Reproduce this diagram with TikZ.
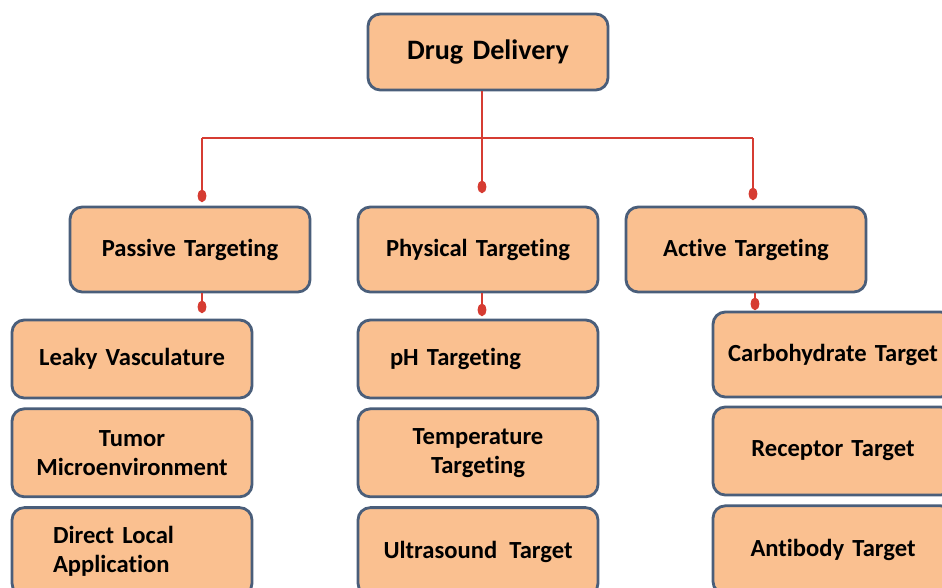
\documentclass[tikz,border=0pt]{standalone}
\usepackage{fontspec}
\setmainfont{Carlito}[Ligatures=NoCommon]
\usetikzlibrary{arrows.meta,positioning}

\definecolor{boxfill}{HTML}{FAC090}
\definecolor{boxline}{HTML}{4A5E7A}
\definecolor{linkred}{HTML}{D63C32}

\newcommand\boxfont{\bfseries\fontsize{14}{16.5}\selectfont\fontdimen2\font=0.2em\relax}
\newcommand\topfont{\bfseries\fontsize{16}{19}\selectfont\fontdimen2\font=0.2em\relax}

\begin{document}
\begin{tikzpicture}[
    node distance = 0.16cm, % gap between stacked boxes
    link/.style = {draw=linkred, line width=1.7pt, -{Ellipse[length=7pt,width=5pt]}}
    ]

    \tikzset{box/.style={
    draw = boxline,
    line width = 1.6pt,
    fill = boxfill,
    rounded corners = 7pt,
    minimum width = 4.8cm,
    text width = 4.4cm,
    inner xsep = 0.2cm,
    align = center,
    font = \boxfont
    }}
    \useasboundingbox (0,0) rectangle (18.84,-11.74);
    \clip (0,0) rectangle (18.84,-11.74);

    % top level
    \node[box, minimum height=1.52cm, font=\topfont] (dd) at (9.76,-1.04) {Drug Delivery};

    % second level
    \node[box, minimum height=1.7cm] (passive) at (3.8,-4.99) {Passive Targeting};
    \node[box, minimum height=1.7cm] (physical) at (9.56,-4.99) {Physical Targeting};
    \node[box, minimum height=1.7cm] (active) at (14.92,-4.99) {Active Targeting};

    % passive column
    \node[box, minimum height=1.56cm] (leaky) at (2.64,-7.18) {Leaky Vasculature};
    \node[box, minimum height=1.76cm] (tumor) [below=of leaky] {Tumor\\Microenvironment};
    \node[box, minimum height=1.76cm, align=left, inner xsep=0.82cm, text width=3.16cm] (direct) [below=of tumor] {Direct Local\\Application};

    % physical column
    \node[box, minimum height=1.56cm, align=left, inner xsep=0.64cm, text width=3.52cm] (ph) at (9.56,-7.18) {pH Targeting};
    \node[box, minimum height=1.76cm] (temp) [below=of ph] {Temperature\\Targeting};
    \node[box, minimum height=1.76cm] (ultra) [below=of temp] {Ultrasound\enspace Target};

    % active column
    \node[box, minimum height=1.7cm] (carb) at (16.66,-7.09) {Carbohydrate Target};
    \node[box, minimum height=1.76cm] (receptor) at (16.66,-9.02) {Receptor Target};
    \node[box, minimum height=1.76cm] (antibody) [below=of receptor] {Antibody Target};

    % connectors
    \coordinate (hub) at (9.64,-2.76);
    \coordinate (hubL) at (4.04,-2.76);
    \coordinate (hubR) at (15.06,-2.76);
    \coordinate (dotP) at (4.04,-4.04);
    \coordinate (dotM) at (9.64,-3.86);
    \coordinate (dotA) at (15.06,-4.0);
    \draw[draw=linkred, line width=1.7pt] (dd.south -| hub) -- (hub);
    \draw[draw=linkred, line width=1.7pt] (hubL) -- (hubR);
    \draw[link] (hubL) -- (dotP);
    \draw[link] (hub) -- (dotM);
    \draw[link] (hubR) -- (dotA);

    \coordinate (subP) at (4.04,-6.26);
    \coordinate (subM) at (9.64,-6.32);
    \coordinate (subA) at (15.10,-6.2);
    \draw[link] (passive.south -| subP) -- (subP);
    \draw[link] (physical.south -| subM) -- (subM);
    \draw[link] (active.south -| subA) -- (subA);
\end{tikzpicture}
\end{document}
